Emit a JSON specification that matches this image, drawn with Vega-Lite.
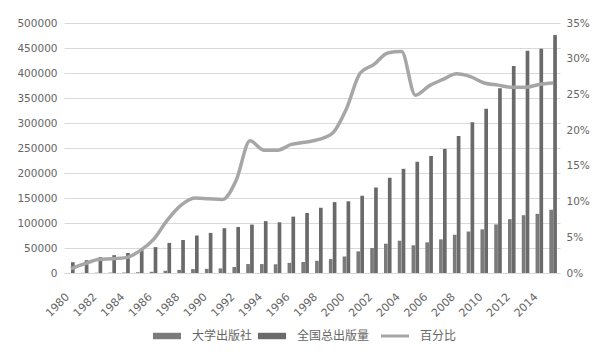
{
  "$schema": "https://vega.github.io/schema/vega-lite/v6.json",
  "width": 496,
  "height": 250,
  "autosize": {"type": "none"},
  "padding": {"left": 64, "top": 23, "right": 49, "bottom": 91},
  "background": "white",
  "config": {
    "font": "DejaVu Sans",
    "view": {"stroke": null},
    "axis": {"labelColor": "#666666", "labelFontSize": 10.5, "labelFont": "DejaVu Sans"}
  },
  "data": {
    "values": [
      {"year": 1980, "全国总出版量": 21600, "大学出版社": 130, "百分比": 0.006},
      {"year": 1981, "全国总出版量": 25600, "大学出版社": 330, "百分比": 0.013},
      {"year": 1982, "全国总出版量": 31800, "大学出版社": 600, "百分比": 0.019},
      {"year": 1983, "全国总出版量": 35700, "大学出版社": 710, "百分比": 0.020},
      {"year": 1984, "全国总出版量": 40100, "大学出版社": 860, "百分比": 0.0215},
      {"year": 1985, "全国总出版量": 45600, "大学出版社": 1410, "百分比": 0.031},
      {"year": 1986, "全国总出版量": 51800, "大学出版社": 2430, "百分比": 0.047},
      {"year": 1987, "全国总出版量": 60200, "大学出版社": 4460, "百分比": 0.074},
      {"year": 1988, "全国总出版量": 66000, "大学出版社": 6270, "百分比": 0.095},
      {"year": 1989, "全国总出版量": 75000, "大学出版社": 7870, "百分比": 0.105},
      {"year": 1990, "全国总出版量": 80200, "大学出版社": 8340, "百分比": 0.104},
      {"year": 1991, "全国总出版量": 89600, "大学出版社": 9230, "百分比": 0.103},
      {"year": 1992, "全国总出版量": 92100, "大学出版社": 11980, "百分比": 0.130},
      {"year": 1993, "全国总出版量": 96800, "大学出版社": 17900, "百分比": 0.185},
      {"year": 1994, "全国总出版量": 103800, "大学出版社": 17860, "百分比": 0.172},
      {"year": 1995, "全国总出版量": 101400, "大学出版社": 17440, "百分比": 0.172},
      {"year": 1996, "全国总出版量": 112800, "大学出版社": 20300, "百分比": 0.180},
      {"year": 1997, "全国总出版量": 120100, "大学出版社": 21980, "百分比": 0.183},
      {"year": 1998, "全国总出版量": 130600, "大学出版社": 24420, "百分比": 0.187},
      {"year": 1999, "全国总出版量": 141800, "大学出版社": 27800, "百分比": 0.196},
      {"year": 2000, "全国总出版量": 143400, "大学出版社": 32980, "百分比": 0.230},
      {"year": 2001, "全国总出版量": 154500, "大学出版社": 43270, "百分比": 0.280},
      {"year": 2002, "全国总出版量": 171000, "大学出版社": 49920, "百分比": 0.292},
      {"year": 2003, "全国总出版量": 190400, "大学出版社": 58640, "百分比": 0.308},
      {"year": 2004, "全国总出版量": 208300, "大学出版社": 64570, "百分比": 0.310},
      {"year": 2005, "全国总出版量": 222500, "大学出版社": 55400, "百分比": 0.249},
      {"year": 2006, "全国总出版量": 234000, "大学出版社": 61300, "百分比": 0.262},
      {"year": 2007, "全国总出版量": 248300, "大学出版社": 67280, "百分比": 0.271},
      {"year": 2008, "全国总出版量": 274100, "大学出版社": 76480, "百分比": 0.279},
      {"year": 2009, "全国总出版量": 301700, "大学出版社": 82970, "百分比": 0.275},
      {"year": 2010, "全国总出版量": 328400, "大学出版社": 87350, "百分比": 0.266},
      {"year": 2011, "全国总出版量": 369500, "大学出版社": 97180, "百分比": 0.263},
      {"year": 2012, "全国总出版量": 414000, "大学出版社": 107640, "百分比": 0.260},
      {"year": 2013, "全国总出版量": 444400, "大学出版社": 115550, "百分比": 0.260},
      {"year": 2014, "全国总出版量": 448400, "大学出版社": 118390, "百分比": 0.264},
      {"year": 2015, "全国总出版量": 475800, "大学出版社": 126550, "百分比": 0.266}
    ]
  },
  "encoding": {
    "x": {
      "field": "year",
      "type": "ordinal",
      "scale": {"paddingInner": 0.45, "paddingOuter": 0.225},
      "axis": {
        "title": null,
        "values": [1980, 1982, 1984, 1986, 1988, 1990, 1992, 1994, 1996, 1998, 2000, 2002, 2004, 2006, 2008, 2010, 2012, 2014],
        "labelAngle": -45,
        "labelAlign": "right",
        "labelBaseline": "middle",
        "labelFontSize": 11,
        "ticks": false,
        "domainColor": "#d9d9d9",
        "labelPadding": 22,
        "labelOffset": -3
      }
    }
  },
  "layer": [
    {
      "transform": [{"fold": ["大学出版社", "全国总出版量"], "as": ["series", "value"]}],
      "mark": {"type": "bar"},
      "encoding": {
        "xOffset": {
          "field": "series",
          "type": "nominal",
          "sort": ["大学出版社", "全国总出版量"],
          "scale": {"domain": ["大学出版社", "全国总出版量"], "paddingInner": 0.05}
        },
        "y": {
          "field": "value",
          "type": "quantitative",
          "scale": {"domain": [0, 500000], "nice": false},
          "axis": {
            "title": null,
            "orient": "left",
            "values": [0, 50000, 100000, 150000, 200000, 250000, 300000, 350000, 400000, 450000, 500000],
            "format": "d",
            "grid": true,
            "gridColor": "#d9d9d9",
            "domain": false,
            "ticks": false,
            "labelPadding": 7
          }
        },
        "color": {
          "field": "series",
          "type": "nominal",
          "scale": {
            "domain": ["大学出版社", "全国总出版量", "百分比"],
            "range": ["#7b7b7b", "#6a6a6a", "#a6a6a6"]
          },
          "legend": {
            "title": null,
            "orient": "none",
            "legendX": 97,
            "legendY": 307,
            "direction": "horizontal",
            "labelFont": "Noto Sans CJK SC",
            "labelFontSize": 12,
            "labelColor": "#666666",
            "symbolSize": 784,
            "labelOffset": 19,
            "columnPadding": 5,
            "encode": {
              "symbols": {
                "update": {
                  "shape": {"signal": "datum.value === '百分比' ? 'stroke' : 'M-1,-0.23H1V0.23H-1Z'"},
                  "strokeWidth": {"signal": "datum.value === '百分比' ? 3 : 0"},
                  "stroke": {"signal": "datum.value === '百分比' ? '#a6a6a6' : 'transparent'"}
                }
              }
            }
          }
        }
      }
    },
    {
      "mark": {"type": "line", "color": "#a6a6a6", "strokeWidth": 3.5, "interpolate": "monotone"},
      "encoding": {
        "y": {
          "field": "百分比",
          "type": "quantitative",
          "scale": {"domain": [0, 0.35], "nice": false},
          "axis": {
            "title": null,
            "orient": "right",
            "values": [0, 0.05, 0.1, 0.15, 0.2, 0.25, 0.3, 0.35],
            "format": ".0%",
            "grid": false,
            "domain": false,
            "ticks": false,
            "labelPadding": 6
          }
        }
      }
    }
  ],
  "resolve": {"scale": {"y": "independent"}}
}
